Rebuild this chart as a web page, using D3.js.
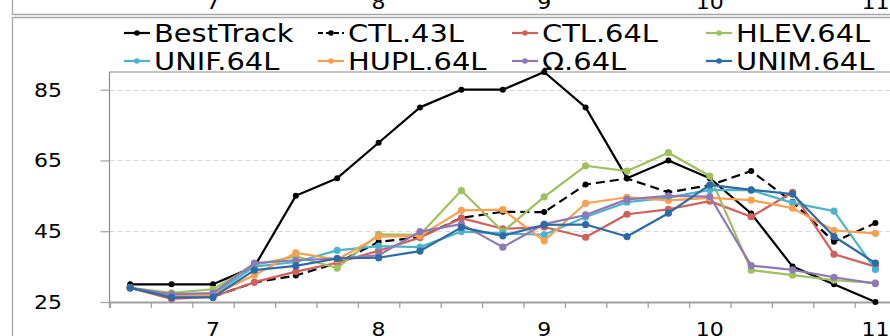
<!DOCTYPE html>
<html>
<head>
<meta charset="utf-8">
<script src="https://cdn.jsdelivr.net/npm/d3@7"></script>
<style>
  html, body { margin: 0; padding: 0; background: #fff; }
  svg { display: block; }
  text { font-family: "DejaVu Sans", sans-serif; fill: #000; }
</style>
</head>
<body>
<svg id="chart" width="890" height="336"></svg>
<script>
// Forecast day for each sample (6-hourly)
const days = [6.5, 6.75, 7, 7.25, 7.5, 7.75, 8, 8.25, 8.5, 8.75, 9, 9.25, 9.5, 9.75, 10, 10.25, 10.5, 10.75, 11];
const tickLabels = ["7", "8", "9", "10", "11"];
const yTicks = [25, 45, 65, 85];

const seriesNames = ["BestTrack", "CTL.43L", "CTL.64L", "HLEV.64L", "UNIF.64L", "HUPL.64L", "Ω.64L", "UNIM.64L"];

const bestTrack = [30, 30, 30, 35, 55, 60, 70, 80, 85, 85, 90, 80, 60, 65, 60, 50, 35, 30, 25];
const ctl43 = [29, 26.5, 26.5, 30.5, 32.5, 36, 42, 43.3, 48.8, 50.5, 50.4, 58.2, 59.9, 56, 58, 62, 53.3, 42, 47.3];
const ctl64 = [29, 25.9, 26.5, 30.6, 33.6, 36.1, 39.5, 43.2, 48.7, 45.7, 46.2, 43.3, 49.8, 51.2, 53.5, 49.1, 56, 38.5, 35];
const hlev64 = [29, 27.6, 28.6, 35.5, 37.9, 34.6, 44.1, 44, 56.5, 44.9, 54.7, 63.5, 62, 67.2, 60.6, 34, 32.6, 31.2, 30.4];
const unif64 = [29, 26.8, 27, 35, 36.3, 39.6, 40.8, 40.5, 44.9, 44.4, 44, 49, 53.2, 54.5, 56.7, 56.6, 53, 50.7, 34.2];
const hupl64 = [29, 26.5, 27, 32.6, 38.9, 37, 43.5, 43.7, 50.9, 51.1, 42.3, 52.9, 54.6, 53.7, 54.4, 53.8, 51.5, 45.2, 44.4];
const omega64 = [29, 27.2, 27.5, 36, 36.8, 37.3, 38.2, 44.9, 47, 40.5, 47, 49.6, 54, 55, 54.8, 35.3, 34.1, 32, 30.2];
const unim64 = [29, 26.3, 26.3, 34, 35.2, 37.3, 37.5, 39.4, 46.1, 43.7, 46.8, 46.9, 43.5, 50.1, 58.1, 56.7, 55.5, 43.5, 36];

const seriesValues = [bestTrack, ctl43, ctl64, hlev64, unif64, hupl64, omega64, unim64];
const seriesColors = ["#000000", "#000000", "#D0605C", "#9EC05F", "#4DB3CC", "#F8A050", "#8E78B6", "#2E6AA3"];
const seriesDash = [null, "9,5", null, null, null, null, null, null];

const W = 890, H = 336;
const SX = 1.1;              // horizontal stretch of the axis lettering
const SX_LEGEND = 1.18;      // horizontal stretch of the legend lettering
const plot = { left: 109.5, top: 72, bottom: 302 };
const band = 41.4;

const svg = d3.select("#chart");

const x = d3.scaleBand()
  .domain(d3.range(days.length))
  .range([plot.left, plot.left + band * days.length]);
const xEdge = d3.scaleLinear()
  .domain([0, days.length])
  .range([plot.left, plot.left + band * days.length]);
const y = d3.scaleLinear().domain([25, 90]).range([plot.bottom, plot.top]);
const cx = i => x(i) + x.bandwidth() / 2;

const labelIdx = d3.range(days.length).filter(i => tickLabels.includes(String(days[i])));

// Frames of the neighbouring chart above and of this chart
svg.append("path").attr("d", "M12.5,0 V14.5 H890")
  .attr("fill", "none").attr("stroke", "#A6A6A6").attr("stroke-width", 1.3);
svg.append("path").attr("d", "M12.5,336 V17.5 H890")
  .attr("fill", "none").attr("stroke", "#A6A6A6").attr("stroke-width", 1.3);

// Category labels of the chart above (only their lower part is in view)
const topAxis = svg.append("g")
  .call(d3.axisTop(x).tickValues(labelIdx).tickSize(0).tickFormat(i => String(days[i])));
topAxis.select(".domain").remove();
topAxis.selectAll("text")
  .attr("y", 0).attr("dy", 0)
  .attr("font-size", 20)
  .attr("font-family", "DejaVu Sans, sans-serif")
  .attr("transform", `translate(0,9) scale(${SX},1)`);

// Horizontal gridlines
svg.append("g").selectAll("line")
  .data(yTicks.filter(v => v !== 25))
  .join("line")
  .attr("x1", plot.left).attr("x2", W)
  .attr("y1", d => Math.round(y(d)) + 0.5).attr("y2", d => Math.round(y(d)) + 0.5)
  .attr("stroke", "#D9D9D9").attr("stroke-width", 1.2).attr("stroke-dasharray", "5,3");

// Plot-area border (top and left)
svg.append("path")
  .attr("d", `M${W},${plot.top} H${plot.left} V${plot.bottom}`)
  .attr("fill", "none").attr("stroke", "#8C8C8C").attr("stroke-width", 1.2);

// Value axis
const yAxis = svg.append("g")
  .attr("transform", `translate(${plot.left},0)`)
  .call(d3.axisLeft(y).tickValues(yTicks).tickSize(9).tickFormat(d3.format("d")));
yAxis.select(".domain").remove();
yAxis.selectAll(".tick line").attr("stroke", "#A6A6A6").attr("stroke-width", 1.3);
yAxis.selectAll("text")
  .attr("x", -47.5 / SX)
  .attr("font-size", 20)
  .attr("font-family", "DejaVu Sans, sans-serif")
  .attr("transform", `scale(${SX},1)`);

// Category axis: tick marks on category edges, labels at whole days
const xTicks = svg.append("g")
  .attr("transform", `translate(0,${plot.bottom})`)
  .call(d3.axisBottom(xEdge).tickValues(d3.range(days.length + 1)).tickSize(6).tickFormat(""));
xTicks.select(".domain").attr("stroke", "#A0A0A0").attr("stroke-width", 2.2);
xTicks.selectAll(".tick line").attr("stroke", "#A0A0A0").attr("stroke-width", 1.3);

const xLabels = svg.append("g")
  .attr("transform", `translate(0,${plot.bottom})`)
  .call(d3.axisBottom(x).tickValues(labelIdx).tickSize(0).tickFormat(i => String(days[i])));
xLabels.select(".domain").remove();
xLabels.selectAll("text")
  .attr("y", 0).attr("dy", 0)
  .attr("font-size", 20)
  .attr("font-family", "DejaVu Sans, sans-serif")
  .attr("transform", `translate(0,34) scale(${SX},1)`);

// Series
const line = d3.line().x((d, i) => cx(i)).y(d => y(d));
const seriesG = svg.append("g");
seriesValues.forEach((vals, k) => {
  const g = seriesG.append("g");
  g.append("path")
    .attr("d", line(vals))
    .attr("fill", "none")
    .attr("stroke", seriesColors[k])
    .attr("stroke-width", 2.2)
    .attr("stroke-linejoin", "round")
    .attr("stroke-dasharray", seriesDash[k]);
  g.selectAll("circle")
    .data(vals)
    .join("circle")
    .attr("cx", (d, i) => cx(i))
    .attr("cy", d => y(d))
    .attr("r", k < 2 ? 3 : 3.6)
    .attr("fill", seriesColors[k]);
});

// Legend: two rows of four
const legendCols = [124, 318, 512, 706];
const legendRows = [33, 61];
const legend = svg.append("g");
seriesNames.forEach((name, k) => {
  const lx = legendCols[k % 4], ly = legendRows[Math.floor(k / 4)];
  const item = legend.append("g").attr("transform", `translate(${lx},${ly})`);
  item.append("line")
    .attr("x1", 0).attr("x2", 26).attr("y1", 0).attr("y2", 0)
    .attr("stroke", seriesColors[k]).attr("stroke-width", 2.2)
    .attr("stroke-dasharray", seriesDash[k] ? "5,3" : null);
  item.append("circle").attr("cx", 13).attr("cy", 0).attr("r", 2.8).attr("fill", seriesColors[k]);
  item.append("text")
    .attr("font-size", 24.5)
    .attr("transform", `translate(30,9) scale(${SX_LEGEND},1)`)
    .text(name);
});
</script>
</body>
</html>
